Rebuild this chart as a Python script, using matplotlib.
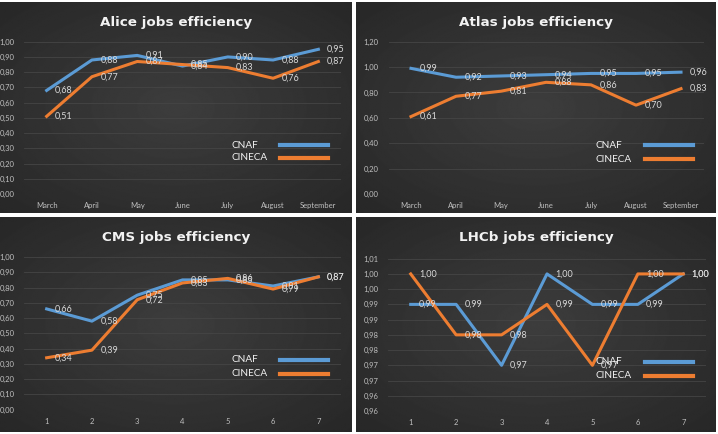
import numpy as np
import matplotlib
matplotlib.use("Agg")
import matplotlib.pyplot as plt
from matplotlib.lines import Line2D

months = ["March", "April", "May", "June", "July", "August", "September"]
numbers = ["1", "2", "3", "4", "5", "6", "7"]

alice_cnaf = [0.68, 0.88, 0.91, 0.84, 0.90, 0.88, 0.95]
alice_cineca = [0.51, 0.77, 0.87, 0.85, 0.83, 0.76, 0.87]
atlas_cnaf = [0.99, 0.92, 0.93, 0.94, 0.95, 0.95, 0.96]
atlas_cineca = [0.61, 0.77, 0.81, 0.88, 0.86, 0.70, 0.83]
cms_cnaf = [0.66, 0.58, 0.75, 0.85, 0.85, 0.81, 0.87]
cms_cineca = [0.34, 0.39, 0.72, 0.83, 0.86, 0.79, 0.87]
lhcb_cnaf = [0.99, 0.99, 0.97, 1.00, 0.99, 0.99, 1.00]
lhcb_cineca = [1.00, 0.98, 0.98, 0.99, 0.97, 1.00, 1.00]
series_names = ["CNAF", "CINECA"]

BLUE = "#5b9bd5"
ORANGE = "#ed7d31"
TXT = "#d9d9d9"
W, H = 718, 434

plt.rcParams['font.family'] = ['Lato', 'DejaVu Sans']
fig = plt.figure(figsize=(W / 100, H / 100), dpi=100)
fig.patch.set_facecolor("white")


def box(x0, y0, x1, y1):
    return [x0 / W, 1 - y1 / H, (x1 - x0) / W, (y1 - y0) / H]


def fmt(v):
    # round half up like the spreadsheet does
    return "{:.2f}".format(v + 1e-9).replace(".", ",")


# radial gradient for the dark panel background
gy, gx = np.mgrid[-1:1:200j, -1:1:300j]
grad = np.sqrt(gx ** 2 + gy ** 2)
grad = 0.24 - 0.085 * np.clip(grad / 1.41, 0, 1)

panels = [
    dict(title="Alice jobs efficiency", cats=months, cnaf=alice_cnaf, cineca=alice_cineca,
         panel=(0, 2, 352, 213), plot=(24, 41.7, 341, 194),
         yticks=np.arange(0, 1.001, 0.1), ylim=(0, 1.0), leg=(232, 145, 158, 280, 328)),
    dict(title="Atlas jobs efficiency", cats=months, cnaf=atlas_cnaf, cineca=atlas_cineca,
         panel=(356, 2, 716, 213), plot=(388.5, 41.7, 703.5, 194),
         yticks=np.arange(0, 1.201, 0.2), ylim=(0, 1.2), leg=(595, 145, 159, 645, 693)),
    dict(title="CMS jobs efficiency", cats=numbers, cnaf=cms_cnaf, cineca=cms_cineca,
         panel=(0, 217, 352, 432), plot=(24, 257, 341, 409.7),
         yticks=np.arange(0, 1.001, 0.1), ylim=(0, 1.0), leg=(232, 360, 374, 280, 328)),
    dict(title="LHCb jobs efficiency", cats=numbers, cnaf=lhcb_cnaf, cineca=lhcb_cineca,
         panel=(356, 217, 716, 432), plot=(388, 258.7, 706, 411),
         yticks=np.arange(0.955, 1.0051, 0.005), ylim=(0.955, 1.005), leg=(596, 362, 376, 645, 693)),
]

for p in panels:
    bg = fig.add_axes(box(*p["panel"]))
    bg.imshow(grad, cmap="gray", vmin=0, vmax=1, aspect="auto",
              extent=(0, 1, 0, 1), interpolation="bilinear")
    bg.set_xlim(0, 1)
    bg.set_ylim(0, 1)
    bg.axis("off")
    px0, py0, px1, py1 = p["panel"]
    bg.text(0.5, 1 - 20 / (py1 - py0), p["title"], transform=bg.transAxes,
            ha="center", va="center", color="#f2f2f2", fontsize=9.7,
            fontweight="bold", family=["DejaVu Sans"])

    ax = fig.add_axes(box(*p["plot"]))
    ax.patch.set_alpha(0)
    x = np.arange(len(p["cats"]))
    ax.plot(x, p["cnaf"], color=BLUE, lw=2.2, solid_joinstyle="round")
    ax.plot(x, p["cineca"], color=ORANGE, lw=2.2, solid_joinstyle="round")
    for xi, v in zip(x, p["cnaf"]):
        ax.annotate(fmt(v), (xi, v), xytext=(6, 0), textcoords="offset points",
                    ha="left", va="center", color=TXT, fontsize=6.5)
    for xi, v in zip(x, p["cineca"]):
        ax.annotate(fmt(v), (xi, v), xytext=(6, 0), textcoords="offset points",
                    ha="left", va="center", color=TXT, fontsize=6.5)
    ax.set_xlim(-0.5, len(x) - 0.5)
    ax.set_ylim(*p["ylim"])
    ax.set_xticks(x)
    ax.set_xticklabels(p["cats"])
    ax.set_yticks(p["yticks"])
    ax.set_yticklabels([fmt(v) for v in p["yticks"]])
    ax.tick_params(length=0, colors="#bfbfbf", labelsize=5.5)
    ax.tick_params(axis="y", pad=7)
    ax.tick_params(axis="x", pad=6)
    for s in ax.spines.values():
        s.set_visible(False)
    ax.grid(axis="y", color="#454545", lw=0.6)
    ax.set_axisbelow(True)

    # legend drawn by hand: text on the left, long line on the right
    tx, y1, y2, l0, l1 = p["leg"]
    for name, yy, col in zip(series_names, (y1, y2), (BLUE, ORANGE)):
        fig.text(tx / W, 1 - yy / H, name, ha="left", va="center",
                 color="#f2f2f2", fontsize=7.2)
        fig.add_artist(Line2D([l0 / W, l1 / W], [1 - yy / H, 1 - yy / H],
                              color=col, lw=3, transform=fig.transFigure))

fig.savefig("out.png", dpi=100, facecolor="white")
